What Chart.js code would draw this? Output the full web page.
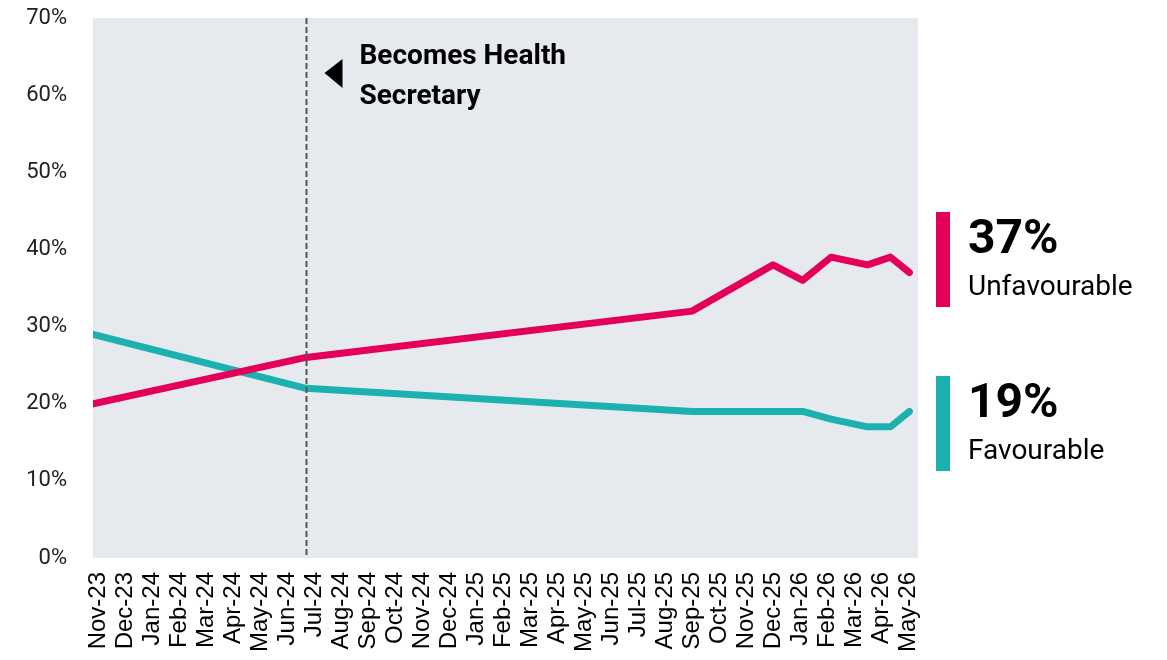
<!DOCTYPE html>
<html>
<head>
<meta charset="utf-8">
<script src="https://cdn.jsdelivr.net/npm/chart.js@4.4.1/dist/chart.umd.min.js"></script>
<style type="text/css">
    html, body { margin: 0; padding: 0; background: #fff; }
    #chartBox { width: 1167px; height: 660px; position: relative; }
</style>
</head>
<body>
<div id="chartBox"><canvas id="favChart"></canvas></div>

<script type="text/javascript">
// month ticks, Nov-23 is 0
const monthLabels = ['Nov-23', 'Dec-23', 'Jan-24', 'Feb-24', 'Mar-24', 'Apr-24', 'May-24', 'Jun-24',
    'Jul-24', 'Aug-24', 'Sep-24', 'Oct-24', 'Nov-24', 'Dec-24', 'Jan-25', 'Feb-25', 'Mar-25',
    'Apr-25', 'May-25', 'Jun-25', 'Jul-25', 'Aug-25', 'Sep-25', 'Oct-25', 'Nov-25', 'Dec-25',
    'Jan-26', 'Feb-26', 'Mar-26', 'Apr-26', 'May-26'];

// survey points, as months since Nov-23
const surveyMonth = [-0.19, 7.7, 22, 25, 26.1, 27.15, 28.5, 29.35, 30.05];
const unfavourable = [20, 26, 32, 38, 36, 39, 38, 39, 37];
const favourable = [29, 22, 19, 19, 19, 18, 17, 17, 19];

const yTicks = [0, 10, 20, 30, 40, 50, 60, 70];
const becameSecretary = 7.7;
const annotationText = ['Becomes Health', 'Secretary'];

const RED = '#e4005a';
const TEAL = '#1cb0ae';

function toPoints(values) {
    return values.map((v, i) => ({ x: surveyMonth[i], y: v }));
}

const plotBackground = {
    id: 'plotBackground',
    beforeDatasetsDraw(chart) {
        const { ctx, chartArea } = chart;
        ctx.save();
        ctx.fillStyle = '#e6e9ee';
        ctx.fillRect(chartArea.left, chartArea.top, chartArea.right - chartArea.left, chartArea.bottom - chartArea.top);
        ctx.restore();
    }
};

const annotations = {
    id: 'annotations',
    afterDatasetsDraw(chart) {
        const { ctx, chartArea } = chart;
        const xScale = chart.scales.x;
        const lineX = Math.round(xScale.getPixelForValue(becameSecretary)) + 0.5;
        const top = chartArea.top;

        ctx.save();
        // dashed marker
        ctx.strokeStyle = '#555';
        ctx.lineWidth = 2;
        ctx.setLineDash([6, 3]);
        ctx.beginPath();
        ctx.moveTo(lineX, top);
        ctx.lineTo(lineX, chartArea.bottom);
        ctx.stroke();
        ctx.setLineDash([]);

        // arrow + label
        ctx.fillStyle = '#000';
        ctx.beginPath();
        ctx.moveTo(lineX + 18, top + 55);
        ctx.lineTo(lineX + 36, top + 41);
        ctx.lineTo(lineX + 36, top + 70);
        ctx.closePath();
        ctx.fill();

        ctx.font = 'bold 28px Roboto';
        ctx.textBaseline = 'alphabetic';
        ctx.textAlign = 'left';
        ctx.fillText(annotationText[0], lineX + 53, top + 46);
        ctx.fillText(annotationText[1], lineX + 53, top + 86);

        // end labels on the right
        const right = chartArea.right;
        const blocks = [
            { color: RED, value: unfavourable[unfavourable.length - 1], name: 'Unfavourable', top: 212 },
            { color: TEAL, value: favourable[favourable.length - 1], name: 'Favourable', top: 376 }
        ];
        for (const b of blocks) {
            ctx.fillStyle = b.color;
            ctx.fillRect(right + 18, b.top, 14, 95);
            ctx.fillStyle = '#000';
            ctx.font = 'bold 48px Roboto';
            ctx.fillText(b.value + '%', right + 50, b.top + 41);
            ctx.font = '28px Roboto';
            ctx.fillText(b.name, right + 50, b.top + 83);
        }
        ctx.restore();
    }
};

new Chart(document.getElementById('favChart'), {
    type: 'line',
    data: {
        datasets: [
            {
                label: 'Unfavourable',
                data: toPoints(unfavourable),
                borderColor: RED,
                borderWidth: 7,
                borderCapStyle: 'round',
                borderJoinStyle: 'round',
                pointRadius: 0,
                tension: 0
            },
            {
                label: 'Favourable',
                data: toPoints(favourable),
                borderColor: TEAL,
                borderWidth: 7,
                borderCapStyle: 'round',
                borderJoinStyle: 'round',
                pointRadius: 0,
                tension: 0
            }
        ]
    },
    options: {
        responsive: true,
        maintainAspectRatio: false,
        animation: false,
        layout: { padding: { left: 0, top: 18, right: 249, bottom: 0 } },
        plugins: {
            legend: { display: false },
            tooltip: { enabled: false }
        },
        scales: {
            x: {
                type: 'linear',
                min: -0.19,
                max: 30.37,
                grid: { display: false, drawTicks: false },
                border: { display: false },
                afterFit(scale) {
                    scale.height = 102;
                    scale.paddingLeft = 0;
                    scale.paddingRight = 0;
                },
                afterBuildTicks(scale) {
                    scale.ticks = monthLabels.map((l, i) => ({ value: i }));
                },
                ticks: {
                    autoSkip: false,
                    maxRotation: 90,
                    minRotation: 90,
                    padding: 14,
                    color: '#000',
                    font: { family: 'Liberation Sans', size: 24 },
                    callback: (v) => monthLabels[v]
                }
            },
            y: {
                min: 0,
                max: 70,
                grid: { display: false, drawTicks: false },
                border: { display: false },
                afterFit(scale) {
                    scale.width = 93;
                    scale.paddingTop = 0;
                    scale.paddingBottom = 0;
                },
                afterBuildTicks(scale) {
                    scale.ticks = yTicks.map(v => ({ value: v }));
                },
                ticks: {
                    padding: 26,
                    color: '#222',
                    font: { family: 'Roboto', size: 22 },
                    callback: (v) => v + '%'
                }
            }
        }
    },
    plugins: [plotBackground, annotations]
});
</script>
</body>
</html>
